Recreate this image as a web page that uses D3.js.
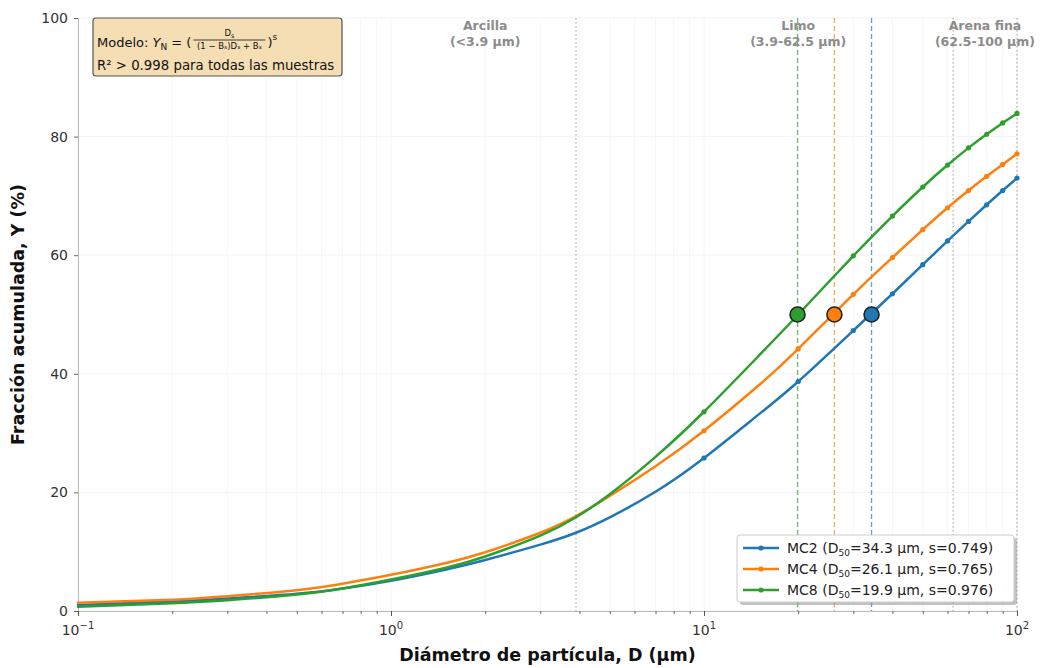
<!DOCTYPE html>
<html><head><meta charset="utf-8">
<script src="https://cdn.jsdelivr.net/npm/d3@7"></script>
<style>
body{margin:0;background:#fff;}
svg{font-family:"DejaVu Sans",sans-serif;}
</style></head>
<body>
<svg id="chart" width="1040" height="668"></svg>
<script>
// ---- data ----
const curveD = [0.1,0.2,0.3,0.5,0.7,1,1.5,2,3,3.9,5,7,10,15,20,30,40,50,60,70,80,90,100];
const yMC2 = [1.0,1.6,2.1,2.9,3.8,5.1,7.0,8.6,11.2,13.2,15.8,20.1,25.8,33.2,38.7,47.3,53.5,58.4,62.4,65.7,68.5,70.9,73.0];
const yMC4 = [1.4,1.9,2.5,3.5,4.6,6.1,8.1,9.9,13.2,16.0,19.4,24.4,30.4,38.1,44.2,53.4,59.6,64.3,68.0,70.9,73.3,75.3,77.1];
const yMC8 = [0.7,1.3,1.8,2.8,3.8,5.3,7.3,9.2,12.7,15.8,19.7,26.0,33.6,43.1,50.0,59.9,66.6,71.5,75.2,78.1,80.4,82.3,83.9];
const markerD = [10,20,30,40,50,60,70,80,90,100];
const seriesNames = ["MC2","MC4","MC8"];
const seriesColors = ["#1f77b4","#ff7f0e","#2ca02c"];
const d50 = [34.3,26.1,19.9];
const sParam = [0.749,0.765,0.976];
const boundaries = [3.9,62.5,100];
const regionLabels = [["Arcilla","(<3.9 μm)"],["Limo","(3.9-62.5 μm)"],["Arena fina","(62.5-100 μm)"]];
const regionPos = [2,20,79];
const yTicks = [0,20,40,60,80,100];
const xTicks = [0.1,1,10,100];
const xTickExp = ["−1","0","1","2"];

const svg = d3.select("#chart");
const L=78,R=1017,T=18,B=611;
const x = d3.scaleLog().domain([0.1,100]).range([L,R]);
const y = d3.scaleLinear().domain([0,100]).range([B,T]);

// grid
const minor=[];
for(let e=-1;e<2;e++) for(let k=1;k<10;k++) minor.push(k*Math.pow(10,e));
minor.push(100);
svg.append("g").selectAll("line").data(minor).join("line")
  .attr("x1",d=>x(d)).attr("x2",d=>x(d)).attr("y1",T).attr("y2",B)
  .attr("stroke","#f4f4f4").attr("stroke-width",0.8);
svg.append("g").selectAll("line").data(yTicks).join("line")
  .attr("x1",L).attr("x2",R).attr("y1",d=>y(d)).attr("y2",d=>y(d))
  .attr("stroke","#f0f0f0").attr("stroke-width",0.8);

// boundary lines
svg.append("g").selectAll("line").data(boundaries).join("line")
  .attr("x1",d=>x(d)).attr("x2",d=>x(d)).attr("y1",T).attr("y2",B)
  .attr("stroke","#999").attr("stroke-width",1).attr("stroke-dasharray","1.5,2.5");

// D50 dashed lines
svg.append("g").selectAll("line").data(d50).join("line")
  .attr("x1",d=>x(d)).attr("x2",d=>x(d)).attr("y1",T).attr("y2",B)
  .attr("stroke",(d,i)=>seriesColors[i]).attr("stroke-opacity",0.7).attr("stroke-width",1.3)
  .attr("stroke-dasharray","5,3");

// region labels
regionLabels.forEach((lab,i)=>{
  const t=svg.append("text").attr("x",x(regionPos[i])).attr("y",30)
    .attr("text-anchor","middle").attr("font-size",12.5).attr("font-weight","bold").attr("fill","#8c8c8c");
  t.append("tspan").attr("x",x(regionPos[i])).attr("dy",0).text(lab[0]);
  t.append("tspan").attr("x",x(regionPos[i])).attr("dy",16).text(lab[1]);
});

// axes
const yAxis = svg.append("g").attr("transform",`translate(${L},0)`)
  .call(d3.axisLeft(y).tickValues(yTicks).tickSize(4).tickPadding(6));
yAxis.select(".domain").attr("stroke","#bbb");
yAxis.selectAll(".tick line").attr("stroke","#666");
yAxis.selectAll("text").attr("font-size",14).attr("fill","#333").attr("font-family","DejaVu Sans");

const xAxis = svg.append("g").attr("transform",`translate(0,${B})`)
  .call(d3.axisBottom(x).tickValues(minor).tickSize(3).tickFormat(""));
xAxis.select(".domain").attr("stroke","#bbb");
xAxis.selectAll(".tick line").attr("stroke","#666");
const xMaj = svg.append("g").attr("transform",`translate(0,${B})`)
  .call(d3.axisBottom(x).tickValues(xTicks).tickSize(5).tickFormat(""));
xMaj.select(".domain").remove();
xMaj.selectAll(".tick line").attr("stroke","#555");
xTicks.forEach((v,i)=>{
  const t=svg.append("text").attr("x",x(v)).attr("y",B+24).attr("text-anchor","middle")
    .attr("font-size",14).attr("fill","#333");
  t.append("tspan").text("10");
  t.append("tspan").attr("dy",-6).attr("font-size",10).text(xTickExp[i]);
});

// axis titles
svg.append("text").attr("x",(L+R)/2).attr("y",661).attr("text-anchor","middle")
  .attr("font-size",17.5).attr("font-weight","bold").attr("fill","#111").text("Diámetro de partícula, D (μm)");
svg.append("text").attr("transform",`translate(24,${(T+B)/2}) rotate(-90)`).attr("text-anchor","middle")
  .attr("font-size",17.5).attr("font-weight","bold").attr("fill","#111").text("Fracción acumulada, Y (%)");

// curves
const allY=[yMC2,yMC4,yMC8];
const line=d3.line().x(d=>x(d[0])).y(d=>y(d[1])).curve(d3.curveNatural);
allY.forEach((ys,i)=>{
  const pts=curveD.map((d,j)=>[d,ys[j]]);
  svg.append("path").datum(pts).attr("d",line).attr("fill","none")
    .attr("stroke",seriesColors[i]).attr("stroke-width",2.5).attr("stroke-linecap","round");
  const mk=pts.filter(p=>markerD.includes(p[0]));
  svg.append("g").selectAll("circle").data(mk).join("circle")
    .attr("cx",d=>x(d[0])).attr("cy",d=>y(d[1])).attr("r",2.6).attr("fill",seriesColors[i]);
});

// D50 markers
svg.append("g").selectAll("circle").data(d50).join("circle")
  .attr("cx",d=>x(d)).attr("cy",y(50)).attr("r",7.5)
  .attr("fill",(d,i)=>seriesColors[i]).attr("stroke","#222").attr("stroke-width",1.6);

// model box
const mb=svg.append("g");
mb.append("rect").attr("x",93).attr("y",18).attr("width",249).attr("height",58).attr("rx",3)
  .attr("fill","#f5deb3").attr("stroke","#555").attr("stroke-width",1.2);
const m1=mb.append("text").attr("x",97).attr("y",47).attr("font-size",13).attr("fill","#111");
m1.append("tspan").text("Modelo: ");
m1.append("tspan").attr("font-style","italic").text("Y");
m1.append("tspan").attr("font-size",9).attr("dy",3).text("N");
m1.append("tspan").attr("dy",-3).text(" = (");
const fx = 97 + m1.node().getComputedTextLength() + 2;
const fw = 72;
mb.append("text").attr("x",fx+fw/2).attr("y",36).attr("text-anchor","middle").attr("font-size",8.5).attr("fill","#111")
  .text("D").append("tspan").attr("font-size",6.5).attr("dy",2).text("s");
mb.append("line").attr("x1",fx).attr("x2",fx+fw).attr("y1",40).attr("y2",40).attr("stroke","#111").attr("stroke-width",0.8);
mb.append("text").attr("x",fx+fw/2).attr("y",49).attr("text-anchor","middle").attr("font-size",8.5).attr("fill","#111")
  .text("(1 − Bₛ)Dₛ + Bₛ");
mb.append("text").attr("x",fx+fw+2).attr("y",47).attr("font-size",13).attr("fill","#111").text(")")
  .append("tspan").attr("font-size",9).attr("dy",-7).text("s");
mb.append("text").attr("x",97).attr("y",70).attr("font-size",13.3).attr("fill","#111").text("R² > 0.998 para todas las muestras");

// legend
const lg=svg.append("g");
lg.append("rect").attr("x",740).attr("y",538).attr("width",277).attr("height",67).attr("rx",3).attr("fill","#999").attr("opacity",0.6);
lg.append("rect").attr("x",737).attr("y",535).attr("width",277).attr("height",67).attr("rx",3)
  .attr("fill","#fff").attr("stroke","#ccc").attr("stroke-width",1);
seriesNames.forEach((n,i)=>{
  const yy=548+i*21;
  lg.append("line").attr("x1",743).attr("x2",779).attr("y1",yy).attr("y2",yy)
    .attr("stroke",seriesColors[i]).attr("stroke-width",2.5);
  lg.append("circle").attr("cx",761).attr("cy",yy).attr("r",2.6).attr("fill",seriesColors[i]);
  const t=lg.append("text").attr("x",787).attr("y",yy+5).attr("font-size",14).attr("fill","#222");
  t.append("tspan").text(n+" (D");
  t.append("tspan").attr("font-size",9).attr("dy",3).text("50");
  t.append("tspan").attr("dy",-3).text(`=${d50[i]} μm, s=${sParam[i]})`);
});
</script>
</body></html>
